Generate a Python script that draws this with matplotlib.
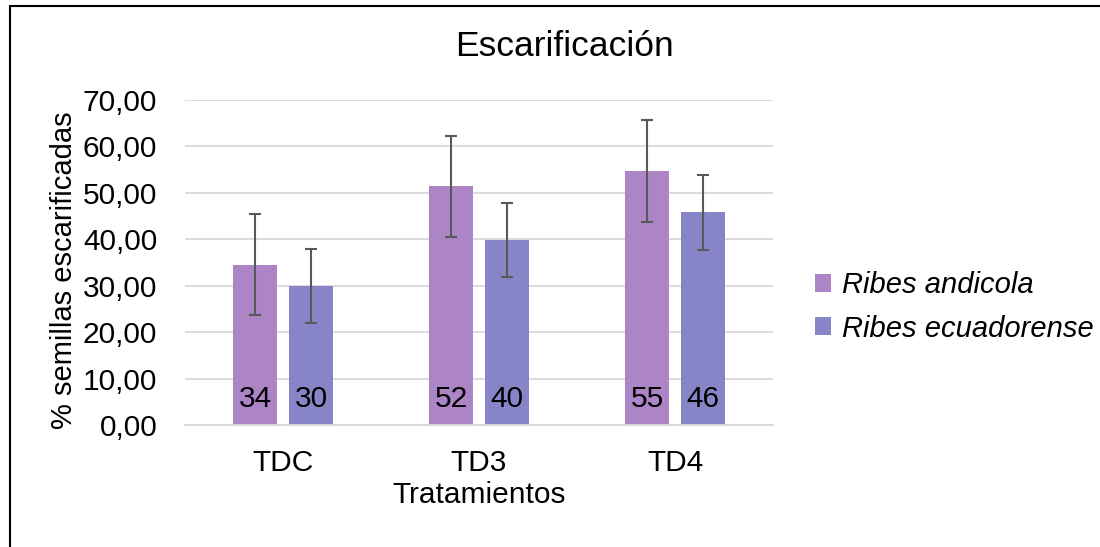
import matplotlib.pyplot as plt
import numpy as np
from matplotlib.patches import Rectangle

# data
tratamientos = ['TDC', 'TD3', 'TD4']
especies = ['Ribes andicola', 'Ribes ecuadorense']
andicola = [34.5, 51.4, 54.7]
ecuadorense = [30.0, 39.9, 45.8]
err_andicola = [10.9, 10.85, 10.9]
err_ecuadorense = [8.0, 8.0, 8.0]
etiq_andicola = ['34', '52', '55']
etiq_ecuadorense = ['30', '40', '46']
yticks = [0, 10, 20, 30, 40, 50, 60, 70]

plt.rcParams['font.family'] = ['Liberation Sans', 'DejaVu Sans']

fig = plt.figure(figsize=(11, 5.47), dpi=100)
ax = fig.add_axes([185 / 1100, 1 - 425 / 547, 588 / 1100, 325 / 547])

x = np.arange(len(tratamientos))
w = 0.225
off = 0.143
colores = ['#AD84C6', '#8784C7']

b1 = ax.bar(x - off, andicola, w, color=colores[0], label=especies[0], zorder=2)
b2 = ax.bar(x + off, ecuadorense, w, color=colores[1], label=especies[1], zorder=2)
ax.errorbar(x - off, andicola, yerr=err_andicola, fmt='none', ecolor='#595959',
            elinewidth=1.5, capsize=4.5, capthick=1.5, zorder=3)
ax.errorbar(x + off, ecuadorense, yerr=err_ecuadorense, fmt='none', ecolor='#595959',
            elinewidth=1.5, capsize=4.5, capthick=1.5, zorder=3)

# value labels sitting at the base of each bar
for bars, etiq in [(b1, etiq_andicola), (b2, etiq_ecuadorense)]:
    for rect, t in zip(bars, etiq):
        ax.annotate(t, (rect.get_x() + rect.get_width() / 2, 0), xytext=(0, 19),
                    textcoords='offset points', ha='center', va='center',
                    fontsize=21.5, color='black', zorder=4)

ax.set_xlim(-0.5, 2.5)
ax.set_ylim(0, 70)
ax.set_yticks(yticks)
ax.set_yticklabels([f'{v:.2f}'.replace('.', ',') for v in yticks], fontsize=21.5)
ax.set_xticks(x)
ax.set_xticklabels(tratamientos, fontsize=21.5)
ax.tick_params(length=0)
ax.tick_params(axis='y', pad=20)
ax.tick_params(axis='x', pad=17)
ax.grid(axis='y', color='#D9D9D9', linewidth=1.3, zorder=0)
ax.set_axisbelow(True)
for s in ['top', 'right', 'left']:
    ax.spines[s].set_visible(False)
ax.spines['bottom'].set_color('#D9D9D9')
ax.spines['bottom'].set_linewidth(1.3)

ax.set_xlabel('Tratamientos', fontsize=21.5, labelpad=3.5)
ax.set_ylabel('% semillas escarificadas', fontsize=21)
ax.yaxis.set_label_coords(78 / 1100, 1 - 270 / 547, transform=fig.transFigure)
fig.text(564 / 1100, 1 - 46 / 547, 'Escarificación', fontsize=25.5,
         ha='center', va='center')

leg = ax.legend(loc='center left', bbox_to_anchor=(789 / 1100, 1 - 307 / 547),
                bbox_transform=fig.transFigure, frameon=False,
                prop={'size': 21, 'style': 'italic'}, handlelength=0.55,
                handleheight=0.55, handletextpad=0.35, labelspacing=0.52)

# chart border (only top and left edges fall inside the picture)
fig.patches.append(Rectangle((10 / 1100, -0.1), 1.2, 1.1 - 5.5 / 547, fill=False,
                             edgecolor='black', linewidth=1.5,
                             transform=fig.transFigure, figure=fig))

fig.savefig('out.png', dpi=100)
